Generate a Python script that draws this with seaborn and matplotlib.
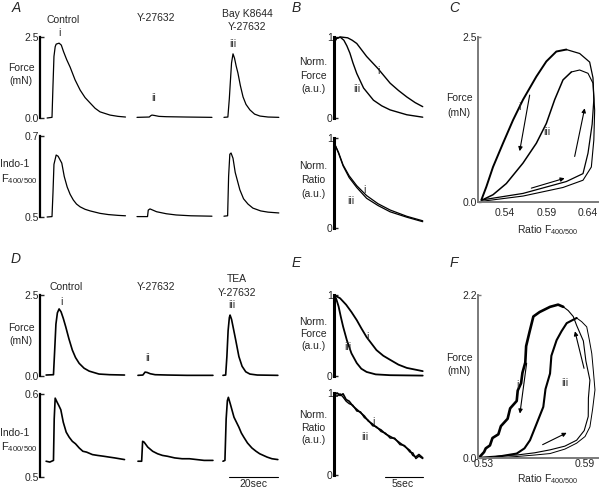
import matplotlib
matplotlib.use("Agg")
import matplotlib.pyplot as plt
import seaborn as sns

W, H = 599, 491

# ---- A: twitch traces (time in s from segment start) ----
a_force_ctrl_t = [0, 2.0, 2.4, 2.8, 3.3, 3.7, 4.9, 5.8, 6.7, 8.0, 9.4, 11.4, 13.5, 15.5, 17.6, 19.6, 21.6, 25.7, 29.0, 32.0]
a_force_ctrl = [0.0, 0.02, 1.0, 1.9, 2.2, 2.28, 2.31, 2.25, 2.05, 1.8, 1.57, 1.18, 0.86, 0.63, 0.46, 0.30, 0.19, 0.09, 0.05, 0.03]
a_force_y_t = [0, 5.0, 5.6, 6.1, 7.0, 9.0, 12.0, 20.0, 30.6]
a_force_y = [0.02, 0.03, 0.07, 0.09, 0.08, 0.05, 0.04, 0.03, 0.02]
a_force_bay_t = [0, 1.6, 2.2, 2.6, 3.1, 3.7, 4.3, 5.0, 5.7, 6.7, 7.8, 9.0, 10.6, 12.5, 14.7, 18.0, 22.4]
a_force_bay = [0.02, 0.03, 0.6, 1.1, 1.7, 1.98, 1.85, 1.6, 1.39, 1.0, 0.65, 0.42, 0.25, 0.12, 0.06, 0.03, 0.02]

a_ratio_ctrl_t = [0, 2.0, 2.4, 2.8, 3.7, 4.5, 6.0, 7.0, 8.2, 9.4, 10.7, 12.0, 13.5, 15.5, 17.6, 21.6, 25.0, 29.0, 32.0]
a_ratio_ctrl = [0.500, 0.501, 0.56, 0.63, 0.653, 0.65, 0.633, 0.60, 0.574, 0.556, 0.542, 0.532, 0.525, 0.519, 0.515, 0.509, 0.506, 0.504, 0.503]
a_ratio_y_t = [0, 4.3, 4.6, 5.3, 8.0, 12.0, 16.0, 22.0, 30.6]
a_ratio_y = [0.501, 0.501, 0.517, 0.520, 0.513, 0.508, 0.505, 0.503, 0.502]
a_ratio_bay_t = [0, 1.5, 1.9, 2.4, 2.9, 3.7, 4.6, 6.5, 8.0, 9.8, 11.8, 15.0, 18.0, 22.4]
a_ratio_bay = [0.502, 0.503, 0.60, 0.655, 0.658, 0.645, 0.61, 0.567, 0.545, 0.532, 0.522, 0.515, 0.512, 0.51]

# ---- D: twitch traces ----
d_force_ctrl_t = [0, 3.0, 3.5, 4.0, 4.6, 5.3, 6.1, 7.0, 8.0, 9.3, 10.7, 12.0, 13.5, 15.5, 17.6, 21.6, 26.0, 32.0]
d_force_ctrl = [0.03, 0.04, 0.8, 1.6, 1.95, 2.07, 1.98, 1.78, 1.52, 1.15, 0.80, 0.57, 0.39, 0.24, 0.15, 0.06, 0.04, 0.03]
d_force_y_t = [0, 2.0, 2.9, 3.7, 5.0, 7.0, 12.0, 20.0, 30.6]
d_force_y = [0.02, 0.03, 0.12, 0.11, 0.07, 0.04, 0.03, 0.02, 0.02]
d_force_tea_t = [0, 1.1, 1.6, 2.1, 2.6, 2.9, 3.5, 4.3, 5.2, 6.5, 7.8, 9.3, 11.0, 14.0, 22.4]
d_force_tea = [0.02, 0.03, 0.6, 1.4, 1.8, 1.88, 1.75, 1.45, 1.11, 0.60, 0.30, 0.13, 0.06, 0.03, 0.02]

d_ratio_ctrl_t = [0, 1.5, 3.0, 3.3, 3.7, 4.5, 5.2, 6.0, 7.0, 8.2, 9.4, 10.7, 12.0, 13.5, 15.0, 16.5, 18.9, 21.0, 23.5, 25.7, 28.0, 30.0, 32.0]
d_ratio_ctrl = [0.519, 0.518, 0.520, 0.570, 0.595, 0.590, 0.586, 0.581, 0.566, 0.554, 0.548, 0.543, 0.540, 0.535, 0.531, 0.530, 0.527, 0.526, 0.525, 0.524, 0.523, 0.522, 0.521]
d_ratio_y_t = [0, 1.5, 1.9, 2.5, 4.0, 6.0, 8.0, 10.0, 12.0, 15.0, 18.0, 21.0, 24.0, 27.0, 30.6]
d_ratio_y = [0.519, 0.519, 0.543, 0.542, 0.536, 0.531, 0.528, 0.526, 0.525, 0.523, 0.522, 0.522, 0.521, 0.520, 0.520]
d_ratio_tea_t = [0, 0.8, 1.3, 1.8, 2.2, 3.0, 4.5, 5.5, 6.5, 7.5, 8.5, 10.0, 11.8, 13.5, 15.0, 16.5, 18.0, 20.0, 22.4]
d_ratio_tea = [0.519, 0.520, 0.570, 0.592, 0.596, 0.588, 0.572, 0.566, 0.560, 0.553, 0.548, 0.541, 0.535, 0.531, 0.528, 0.526, 0.524, 0.522, 0.521]

# ---- B: normalised decays ----
b_force_i_t = [0, 0.3, 0.9, 1.8, 2.4, 3.0, 4.3, 5.8, 7.4, 8.5, 9.6, 10.7, 11.7]
b_force_i = [0.92, 0.98, 1.0, 0.99, 0.96, 0.92, 0.76, 0.61, 0.43, 0.34, 0.26, 0.19, 0.14]
b_force_iii_t = [0, 0.3, 0.8, 1.3, 1.7, 2.1, 2.5, 3.0, 3.9, 5.2, 6.3, 7.4, 9.6, 11.7]
b_force_iii = [0.92, 0.98, 1.0, 0.96, 0.89, 0.80, 0.68, 0.55, 0.37, 0.22, 0.15, 0.10, 0.04, 0.01]
b_ratio_t = [0, 0.6, 1.2, 2.0, 3.0, 4.3, 5.8, 7.4, 9.6, 11.7]
b_ratio_i = [0.95, 0.84, 0.70, 0.58, 0.47, 0.36, 0.27, 0.20, 0.13, 0.08]
b_ratio_iii = [0.95, 0.83, 0.69, 0.56, 0.45, 0.33, 0.25, 0.18, 0.12, 0.07]

# ---- E: normalised decays ----
e_force_i_t = [0, 0.8, 1.6, 2.3, 3.0, 3.6, 4.3, 5.6, 6.5, 7.4, 8.5, 9.6, 11.7]
e_force_i = [1.0, 0.96, 0.88, 0.79, 0.69, 0.59, 0.48, 0.32, 0.25, 0.20, 0.14, 0.10, 0.06]
e_force_iii_t = [0, 0.3, 0.6, 0.9, 1.2, 1.7, 2.3, 3.0, 3.6, 4.3, 5.5, 7.4, 11.7]
e_force_iii = [1.0, 0.95, 0.86, 0.73, 0.61, 0.44, 0.28, 0.16, 0.09, 0.05, 0.02, 0.01, 0.005]
e_ratio_t = [0, 0.4, 0.8, 1.2, 1.6, 2.0, 2.5, 3.0, 3.5, 4.0, 4.5, 5.1, 5.6, 6.2, 6.8, 7.4, 8.0, 8.7, 9.3, 10.0, 10.4, 10.8, 11.2, 11.7]
e_ratio_i = [0.97, 1.0, 0.97, 0.99, 0.92, 0.90, 0.84, 0.80, 0.76, 0.72, 0.66, 0.62, 0.58, 0.55, 0.50, 0.47, 0.44, 0.39, 0.35, 0.30, 0.24, 0.22, 0.25, 0.21]
e_ratio_iii = [0.98, 0.96, 0.99, 0.95, 0.90, 0.87, 0.85, 0.78, 0.77, 0.70, 0.67, 0.60, 0.59, 0.53, 0.51, 0.45, 0.45, 0.37, 0.36, 0.28, 0.27, 0.20, 0.23, 0.20]

# ---- C: force vs ratio loops (rise = bottom/right branch, relax = left branch) ----
c_i_rise_x = [0.512, 0.562, 0.614, 0.634, 0.640, 0.645, 0.647, 0.646, 0.642, 0.630, 0.614]
c_i_rise_y = [0.03, 0.13, 0.31, 0.43, 0.74, 1.18, 1.55, 1.88, 2.12, 2.25, 2.31]
c_i_relax_x = [0.614, 0.602, 0.590, 0.578, 0.562, 0.550, 0.538, 0.526, 0.518, 0.512]
c_i_relax_y = [2.31, 2.28, 2.13, 1.90, 1.55, 1.24, 0.89, 0.53, 0.23, 0.03]
c_iii_rise_x = [0.512, 0.562, 0.610, 0.634, 0.644, 0.647, 0.648, 0.646, 0.640, 0.630, 0.620]
c_iii_rise_y = [0.01, 0.09, 0.22, 0.33, 0.53, 0.94, 1.39, 1.80, 1.95, 2.00, 1.97]
c_iii_relax_x = [0.620, 0.610, 0.600, 0.590, 0.578, 0.562, 0.542, 0.526, 0.513]
c_iii_relax_y = [1.97, 1.85, 1.55, 1.19, 0.89, 0.59, 0.28, 0.11, 0.03]
c_arrows = [((0.572, 0.21), (0.612, 0.36)), ((0.624, 0.69), (0.636, 1.42)), ((0.570, 1.62), (0.558, 0.77))]

# ---- F: force vs ratio loops ----
f_i_relax_x = [0.5276, 0.5300, 0.5310, 0.5335, 0.5350, 0.5385, 0.5400, 0.5440, 0.5455, 0.5494, 0.5500, 0.5520, 0.5528,
               0.5545, 0.5550, 0.5570, 0.5593, 0.5630, 0.5692, 0.5740, 0.5771]
f_i_relax_y = [0.02, 0.08, 0.13, 0.17, 0.27, 0.32, 0.43, 0.53, 0.67, 0.77, 0.91, 1.01, 1.15,
               1.29, 1.51, 1.70, 1.91, 1.97, 2.04, 2.07, 2.04]
f_i_rise_x = [0.5771, 0.5800, 0.5830, 0.5850, 0.5890, 0.5905, 0.5929, 0.5920, 0.5919, 0.5895, 0.5850,
              0.5780, 0.5692, 0.5600, 0.5494, 0.5400, 0.5276]
f_i_rise_y = [2.04, 1.99, 1.91, 1.79, 1.58, 1.31, 1.05, 0.81, 0.56, 0.37, 0.24,
              0.16, 0.11, 0.07, 0.04, 0.03, 0.01]
f_iii_relax_x = [0.5335, 0.5494, 0.5540, 0.5573, 0.5610, 0.5652, 0.5665, 0.5692, 0.5700, 0.5731, 0.5760, 0.5791, 0.5850]
f_iii_relax_y = [0.0, 0.06, 0.13, 0.24, 0.45, 0.69, 0.93, 1.14, 1.38, 1.59, 1.71, 1.82, 1.89]
f_iii_rise_x = [0.5850, 0.5880, 0.5910, 0.5925, 0.5940, 0.5950, 0.5959, 0.5945, 0.5929, 0.5900, 0.5850, 0.5780,
                0.5692, 0.5600, 0.5494, 0.5335]
f_iii_rise_y = [1.89, 1.84, 1.77, 1.60, 1.41, 1.16, 0.92, 0.66, 0.42, 0.29, 0.20, 0.12,
                0.06, 0.04, 0.02, 0.0]
f_arrows = [((0.5648, 0.18), (0.5791, 0.34)), ((0.5894, 1.21), (0.5840, 1.71)), ((0.5553, 1.28), (0.5513, 0.60))]

sns.set_style("white")
plt.rcParams['font.family'] = ['Liberation Sans', 'DejaVu Sans']
plt.rcParams['mathtext.fontset'] = 'custom'
plt.rcParams['mathtext.rm'] = 'Liberation Sans'

fig = plt.figure(figsize=(W / 100, H / 100), dpi=100)
fig.patch.set_facecolor('white')
FS = 7.5
GRAY = '#7a7a7a'


def px_axes(l, t, r, b):
    ax = fig.add_axes([l / W, 1 - b / H, (r - l) / W, (b - t) / H])
    ax.set_facecolor('none')
    return ax


def label(x, y, s, size=FS, **kw):
    fig.text(x / W, 1 - y / H, s, ha=kw.pop('ha', 'center'), va=kw.pop('va', 'center'), fontsize=size, **kw)


def trace_axes(ax, ylim, ticks, ticklabels, xlim, spine_lw=1.6):
    ax.set_xlim(xlim)
    ax.set_ylim(ylim)
    for s in ['top', 'right', 'bottom']:
        ax.spines[s].set_visible(False)
    ax.spines['left'].set_linewidth(spine_lw)
    ax.spines['left'].set_color('black')
    ax.set_xticks([])
    ax.set_yticks(ticks)
    ax.set_yticklabels(ticklabels)
    ax.tick_params(axis='y', direction='in', length=3, width=1, pad=1, labelsize=FS, left=True)
    ax.set_xlabel('')
    ax.set_ylabel('')


def line(ax, x, y, lw=0.9, offset=0.0):
    sns.lineplot(x=[offset + v for v in x], y=y, ax=ax, color='black', linewidth=lw,
                 estimator=None, sort=False, clip_on=False)


def loop_axes(ax, xlim, ylim, xticks, xticklabels, yticklabels):
    ax.set_xlim(xlim)
    ax.set_ylim(ylim)
    for s in ['top', 'right']:
        ax.spines[s].set_visible(False)
    for s in ['left', 'bottom']:
        ax.spines[s].set_color(GRAY)
        ax.spines[s].set_linewidth(1.4)
    ax.set_xticks(xticks)
    ax.set_xticklabels(xticklabels)
    ax.set_yticks(list(ylim))
    ax.set_yticklabels(yticklabels)
    ax.tick_params(axis='y', direction='in', length=2, width=1, color=GRAY, pad=1, labelsize=FS, left=True)
    ax.tick_params(axis='x', length=0, pad=4, labelsize=FS, bottom=True)
    ax.set_xlabel('')
    ax.set_ylabel('')


def arrow(ax, start, end):
    ax.annotate('', xy=end, xytext=start,
                arrowprops=dict(arrowstyle='-|>', color='black', lw=0.8, mutation_scale=6, shrinkA=0, shrinkB=0))


TRACE_XLIM = (0, 98.8)
SEG_A = [2.9, 39.6, 75.1]
SEG_D = [2.5, 40.0, 74.7]
DECAY_XLIM = (0, 12.0)

# ---- panel A ----
ax = px_axes(40, 37, 282, 118)
trace_axes(ax, (0, 2.5), [0, 2.5], ['0.0', '2.5'], TRACE_XLIM)
line(ax, a_force_ctrl_t, a_force_ctrl, offset=SEG_A[0])
line(ax, a_force_y_t, a_force_y, offset=SEG_A[1])
line(ax, a_force_bay_t, a_force_bay, offset=SEG_A[2])

ax = px_axes(40, 136, 282, 217)
trace_axes(ax, (0.5, 0.7), [0.5, 0.7], ['0.5', '0.7'], TRACE_XLIM)
line(ax, a_ratio_ctrl_t, a_ratio_ctrl, offset=SEG_A[0])
line(ax, a_ratio_y_t, a_ratio_y, offset=SEG_A[1])
line(ax, a_ratio_bay_t, a_ratio_bay, offset=SEG_A[2])

# ---- panel D ----
ax = px_axes(40, 295, 282, 376)
trace_axes(ax, (0, 2.5), [0, 2.5], ['0.0', '2.5'], TRACE_XLIM)
line(ax, d_force_ctrl_t, d_force_ctrl, lw=1.2, offset=SEG_D[0])
line(ax, d_force_y_t, d_force_y, lw=1.2, offset=SEG_D[1])
line(ax, d_force_tea_t, d_force_tea, lw=1.2, offset=SEG_D[2])

ax = px_axes(40, 394, 282, 477)
trace_axes(ax, (0.5, 0.6), [0.5, 0.6], ['0.5', '0.6'], TRACE_XLIM)
line(ax, d_ratio_ctrl_t, d_ratio_ctrl, lw=1.2, offset=SEG_D[0])
line(ax, d_ratio_y_t, d_ratio_y, lw=1.2, offset=SEG_D[1])
line(ax, d_ratio_tea_t, d_ratio_tea, lw=1.2, offset=SEG_D[2])
fig.add_artist(plt.Line2D([229 / W, 278 / W], [1 - 477 / H, 1 - 477 / H], color='black', lw=0.8))

# ---- panel B ----
ax = px_axes(334, 37, 425, 118)
trace_axes(ax, (0, 1), [0, 1], ['0', '1'], DECAY_XLIM, spine_lw=2.2)
line(ax, b_force_i_t, b_force_i, lw=1.0)
line(ax, b_force_iii_t, b_force_iii, lw=1.0)

ax = px_axes(334, 138, 425, 228)
trace_axes(ax, (0, 1), [0, 1], ['0', '1'], DECAY_XLIM, spine_lw=2.2)
line(ax, b_ratio_t, b_ratio_i, lw=0.9)
line(ax, b_ratio_t, b_ratio_iii, lw=0.9)

# ---- panel E ----
ax = px_axes(334, 295, 425, 376)
trace_axes(ax, (0, 1), [0, 1], ['0', '1'], DECAY_XLIM, spine_lw=2.2)
line(ax, e_force_i_t, e_force_i, lw=1.3)
line(ax, e_force_iii_t, e_force_iii, lw=1.3)

ax = px_axes(334, 393, 425, 475)
trace_axes(ax, (0, 1), [0, 1], ['0', '1'], DECAY_XLIM, spine_lw=2.2)
line(ax, e_ratio_t, e_ratio_i, lw=1.2)
line(ax, e_ratio_t, e_ratio_iii, lw=1.0)
fig.add_artist(plt.Line2D([385 / W, 423 / W], [1 - 477 / H, 1 - 477 / H], color='black', lw=0.8))

# ---- panel C ----
ax = px_axes(478, 37, 598, 202)
loop_axes(ax, (0.508, 0.652), (0, 2.5), [0.54, 0.59, 0.64], ['0.54', '0.59', '0.64'], ['0.0', '2.5'])
line(ax, c_i_rise_x, c_i_rise_y, lw=0.9)
line(ax, c_i_relax_x, c_i_relax_y, lw=1.4)
line(ax, c_iii_rise_x, c_iii_rise_y, lw=0.8)
line(ax, c_iii_relax_x, c_iii_relax_y, lw=1.1)
for s, e in c_arrows:
    arrow(ax, s, e)

# ---- panel F ----
ax = px_axes(478, 295, 598, 458)
loop_axes(ax, (0.5264, 0.5977), (0, 2.2), [0.53, 0.59], ['0.53', '0.59'], ['0.0', '2.2'])
ax.tick_params(axis='x', pad=1)
line(ax, f_i_relax_x, f_i_relax_y, lw=1.9)
line(ax, f_i_rise_x, f_i_rise_y, lw=0.8)
line(ax, f_iii_relax_x, f_iii_relax_y, lw=1.5)
line(ax, f_iii_rise_x, f_iii_rise_y, lw=0.7)
for s, e in f_arrows:
    arrow(ax, s, e)

# ---- text ----
for x, y, s in [(16, 8, 'A'), (296, 8, 'B'), (454, 8, 'C'), (16, 259, 'D'), (296, 263, 'E'), (454, 263, 'F')]:
    label(x, y, s, size=10, style='italic')

for x, y, s in [(63, 20, 'Control'), (59, 33, 'i'), (156, 18, 'Y-27632'), (247, 14, 'Bay K8644'),
                (247, 27, 'Y-27632'), (233, 44, 'iii'), (154, 98, 'ii'), (21, 68, 'Force'), (21, 81, '(mN)'),
                (15, 164, 'Indo-1'),
                (66, 287, 'Control'), (61, 302, 'i'), (156, 287, 'Y-27632'), (237, 279, 'TEA'),
                (237, 293, 'Y-27632'), (232, 305, 'iii'), (148, 358, 'ii'), (21, 328, 'Force'), (21, 341, '(mN)'),
                (15, 433, 'Indo-1'), (253, 484, '20sec'),
                (313, 62, 'Norm.'), (313, 76, 'Force'), (313, 89, '(a.u.)'), (378, 71, 'i'), (357, 89, 'iii'),
                (313, 166, 'Norm.'), (313, 180, 'Ratio'), (313, 194, '(a.u.)'), (364, 190, 'i'), (351, 201, 'iii'),
                (313, 322, 'Norm.'), (313, 334, 'Force'), (313, 346, '(a.u.)'), (367, 337, 'i'), (348, 347, 'iii'),
                (313, 415, 'Norm.'), (313, 428, 'Ratio'), (313, 440, '(a.u.)'), (373, 422, 'i'), (365, 437, 'iii'),
                (403, 484, '5sec'),
                (459, 98, 'Force'), (459, 113, '(mN)'), (519, 107, 'i'), (547, 132, 'iii'),
                (459, 358, 'Force'), (459, 371, '(mN)'), (517, 385, 'i'), (565, 383, 'iii')]:
    label(x, y, s)

for x, y in [(19, 179), (19, 447)]:
    label(x, y, r'F$_{\mathregular{400/500}}$', size=8)
for x, y in [(548, 230), (548, 479)]:
    label(x, y, r'Ratio F$_{\mathregular{400/500}}$')

fig.savefig('out.png', dpi=100, facecolor='white')
